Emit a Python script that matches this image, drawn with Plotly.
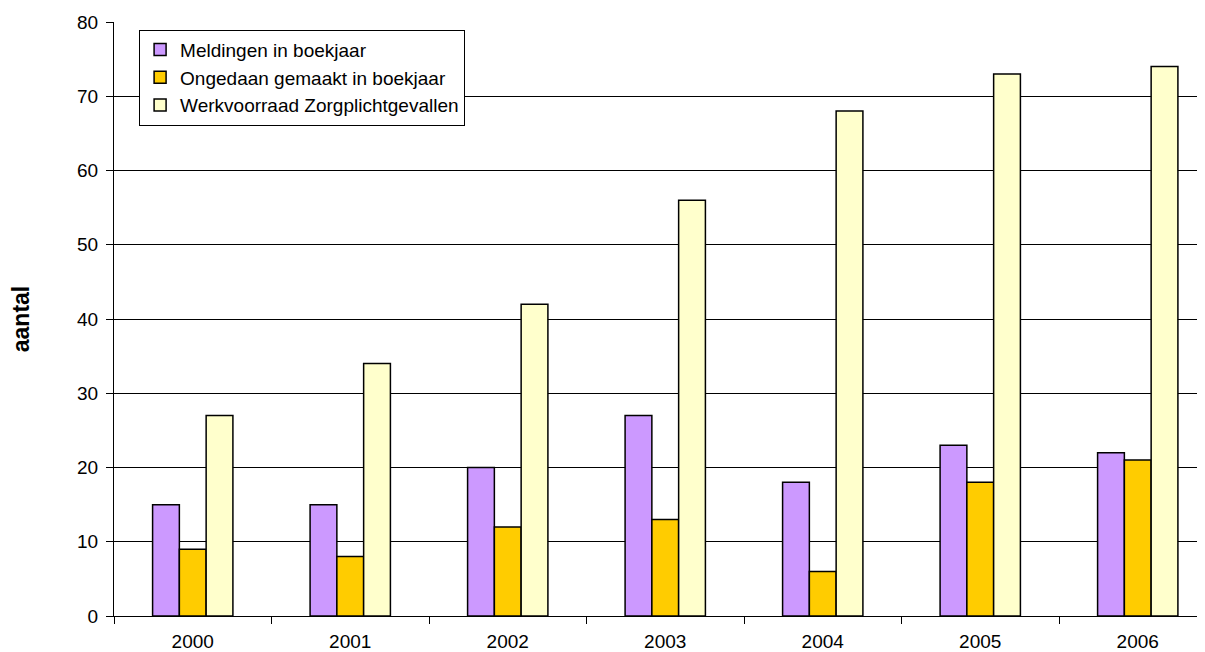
import plotly.graph_objects as go

years = ["2000", "2001", "2002", "2003", "2004", "2005", "2006"]
meldingen = [15, 15, 20, 27, 18, 23, 22]
ongedaan = [9, 8, 12, 13, 6, 18, 21]
werkvoorraad = [27, 34, 42, 56, 68, 73, 74]

series = [
    ("Meldingen in boekjaar", meldingen, "#CC99FF"),
    ("Ongedaan gemaakt in boekjaar", ongedaan, "#FFCC00"),
    ("Werkvoorraad Zorgplichtgevallen", werkvoorraad, "#FFFFCC"),
]

fig = go.Figure()
for name, vals, col in series:
    fig.add_trace(go.Bar(x=years, y=vals, name=name,
                         marker=dict(color=col, line=dict(color="black", width=1.5))))

fig.update_layout(
    width=1197, height=644,
    margin=dict(l=106, r=0, t=14, b=36, autoexpand=False),
    paper_bgcolor="white", plot_bgcolor="white",
    barmode="group", bargap=0.49, bargroupgap=0,
    font=dict(family="Liberation Sans, Arial, sans-serif", size=19, color="black"),
    legend=dict(x=0.023, y=0.987, xanchor="left", yanchor="top",
                bordercolor="black", borderwidth=1, bgcolor="white",
                font=dict(size=19), tracegroupgap=0, itemwidth=30),
    xaxis=dict(range=[-0.5, 6.427], showline=True, linecolor="black", linewidth=1,
               ticks="outside", tickson="boundaries", ticklen=7, tickcolor="black",
               ticklabelstandoff=8,
               showgrid=False, tickfont=dict(size=19), automargin=False),
    yaxis=dict(range=[0, 80], dtick=10, showline=True, linecolor="black", linewidth=1,
               ticks="outside", ticklen=7, tickcolor="black", ticklabelstandoff=4,
               showgrid=True, gridcolor="black", gridwidth=1,
               title=dict(text="<b>aantal</b>", font=dict(size=23), standoff=44),
               tickfont=dict(size=19), automargin=False),
)
fig.write_html("out.html")
